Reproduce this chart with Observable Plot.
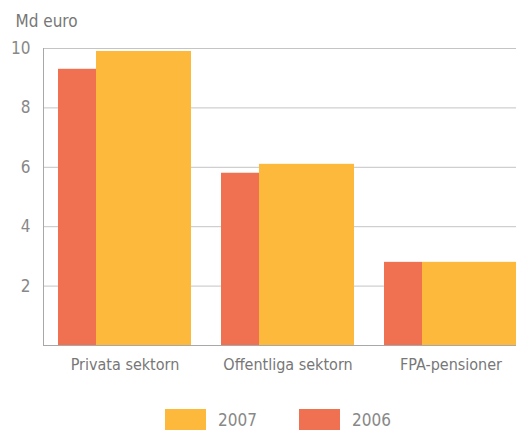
<!DOCTYPE html>
<html>
<head>
<meta charset="utf-8">
<script src="https://cdn.jsdelivr.net/npm/d3@7"></script>
<script src="https://cdn.jsdelivr.net/npm/@observablehq/plot@0.6"></script>
<style>
  html, body { margin: 0; padding: 0; background: #fff; overflow: hidden; width: 516px; height: 430px; }
  #chart { position: relative; width: 516px; height: 430px; font-family: "Liberation Sans Narrow", "DejaVu Sans Condensed", "Open Sans", sans-serif; }
  #chart svg { overflow: visible; max-width: none; }
  .legend { position: absolute; left: 0; top: 409px; width: 516px; height: 30px; font-size: 17px; color: #888; }
  .legend .sw { position: absolute; top: 0; width: 41px; height: 24px; }
  .legend .lb { position: absolute; top: 1px; line-height: 20px; }
</style>
</head>
<body>
<div id="chart"></div>
<script>
const categories = ["Privata sektorn", "Offentliga sektorn", "FPA-pensioner"];
const values2006 = [9.3, 5.8, 2.8];
const values2007 = [9.9, 6.1, 2.8];
const yTicks = [2, 4, 6, 8, 10];
const seriesNames = ["2007", "2006"];
const colors = { "2007": "#FCB93B", "2006": "#EF7152" };
const yLabel = "Md euro";

const data2006 = categories.map((c, i) => ({ cat: c, value: values2006[i] }));
const data2007 = categories.map((c, i) => ({ cat: c, value: values2007[i] }));

const chart = Plot.plot({
  width: 516,
  height: 395,
  marginTop: 48,
  marginBottom: 50,
  marginLeft: 43,
  marginRight: 0,
  style: { fontFamily: '"Liberation Sans Narrow", "DejaVu Sans Condensed", sans-serif', fontSize: "16px", color: "#888", background: "transparent" },
  x: { domain: categories, range: [58, 517], paddingInner: 30 / 163, paddingOuter: 0, align: 0, label: null, axis: null },
  y: { domain: [0, 10], label: null, axis: null },
  marks: [
    Plot.ruleY(yTicks, { stroke: "#c4c4c4", strokeWidth: 1 }),
    Plot.barY(data2006, { x: "cat", y: "value", fill: colors["2006"], insetRight: 95 }),
    Plot.barY(data2007, { x: "cat", y: "value", fill: colors["2007"], insetLeft: 38 }),
    Plot.ruleY([0], { stroke: "#a8a8a8", strokeWidth: 1 }),
    Plot.frame({ anchor: "left", stroke: "#a8a8a8" }),
    Plot.axisX({ tickSize: 0, tickPadding: 13, fontSize: 16, fill: "#777" }),
    Plot.axisY({ ticks: yTicks, tickSize: 0, tickPadding: 13, fontSize: 17, fill: "#888", label: null }),
    Plot.text([yLabel], { frameAnchor: "top-left", text: d => d, textAnchor: "start", dx: -28, dy: -34, fontSize: 17, fill: "#777" })
  ]
});

const root = document.getElementById("chart");
root.appendChild(chart);

const legend = document.createElement("div");
legend.className = "legend";
const legendPos = { "2007": 165, "2006": 299 };
seriesNames.forEach(name => {
  const sw = document.createElement("div");
  sw.className = "sw";
  sw.style.left = legendPos[name] + "px";
  sw.style.background = colors[name];
  const lb = document.createElement("div");
  lb.className = "lb";
  lb.style.left = (legendPos[name] + 53) + "px";
  lb.textContent = name;
  legend.appendChild(sw);
  legend.appendChild(lb);
});
root.appendChild(legend);
</script>
</body>
</html>
